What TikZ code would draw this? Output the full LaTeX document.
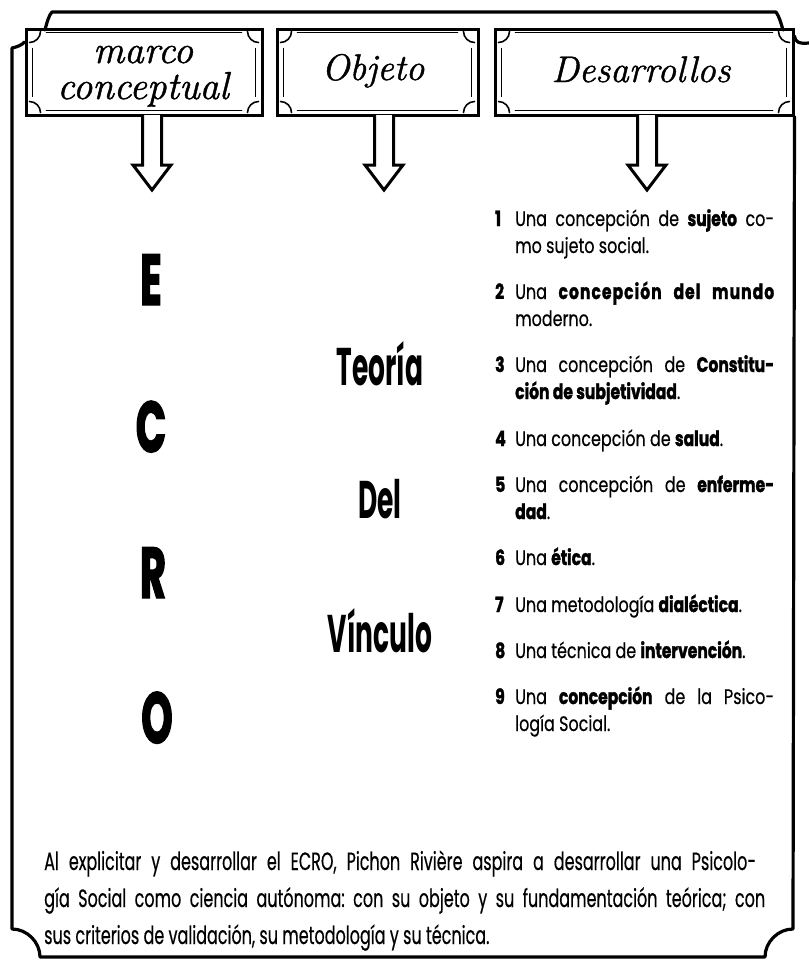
\documentclass[tikz,border=0pt]{standalone}
\usepackage{fontspec}
\usetikzlibrary{calc}
\newfontfamily\itemfont[FakeStretch=0.76,FakeBold=0.4]{Poppins}
\newfontfamily\itemboldfont[FakeStretch=0.74,FakeBold=1.5]{Poppins}
\newfontfamily\itemboldwide[FakeStretch=0.74,FakeBold=1.5,LetterSpace=5]{Poppins}
\newfontfamily\parafont[FakeStretch=0.64,FakeBold=0.4]{Poppins}
\newfontfamily\bigfont[FakeStretch=0.55,FakeBold=2]{Poppins}
\newfontfamily\midfont[FakeStretch=0.5]{Poppins}
\newfontfamily\handfont[FakeBold=1.2]{Latin Modern Roman}
\newcommand\B[1]{{\itemboldfont\bfseries #1}}
\newcommand\BW[1]{{\itemboldwide\bfseries #1}}
\newcommand\N[1]{\makebox[20pt][l]{\B{#1}}}
\newcommand\ornbox[1]{%
  \draw[ornthick] ($(#1.north west)+(22,5)$) -- ($(#1.north east)+(-22,5)$);
  \draw[ornthick] ($(#1.south west)+(22,-6)$) -- ($(#1.south east)+(-22,-6)$);
  \draw[ornthin] ($(#1.north west)+(8,20)$) -- ($(#1.south west)+(8,-20)$);
  \draw[ornthin] ($(#1.north east)+(-8,20)$) -- ($(#1.south east)+(-8,-20)$);
  \draw[ornthick] ($(#1.north west)+(5,15)$) .. controls ($(#1.north west)+(11,15)$) and ($(#1.north west)+(16,10)$) .. ($(#1.north west)+(16,4)$);
  \draw[ornthick] ($(#1.north east)+(-5,15)$) .. controls ($(#1.north east)+(-11,15)$) and ($(#1.north east)+(-16,10)$) .. ($(#1.north east)+(-16,4)$);
  \draw[ornthick] ($(#1.south west)+(5,-15)$) .. controls ($(#1.south west)+(11,-15)$) and ($(#1.south west)+(16,-10)$) .. ($(#1.south west)+(16,-4)$);
  \draw[ornthick] ($(#1.south east)+(-5,-15)$) .. controls ($(#1.south east)+(-11,-15)$) and ($(#1.south east)+(-16,-10)$) .. ($(#1.south east)+(-16,-4)$);
}
\newcommand\hollowarrow[2]{%
  \draw[blk] ($(#2 |- #1.south)+(-9.5,-1.5)$) -- ($(#2)+(-9.5,-25)$) -- ($(#2)+(-19,-25)$) -- (#2)
    -- ($(#2)+(19,-25)$) -- ($(#2)+(9.5,-25)$) -- ($(#2 |- #1.south)+(9.5,-1.5)$);
}
\frenchspacing
\begin{document}
\begin{tikzpicture}[x=1pt,y=-1pt,
  frame/.style={line width=3.2pt, line join=round, line cap=round},
  tbox/.style={draw, line width=3pt, inner sep=0pt, minimum height=86pt},
  ornthick/.style={line width=1.6pt, line cap=round},
  ornthin/.style={line width=1pt},
  blk/.style={line width=3pt, fill=white, line join=miter},
  hand/.style={inner sep=0pt, anchor=base, font=\handfont\itshape\fontsize{39}{39}\selectfont},
  handb/.style={inner sep=0pt, anchor=base, font=\handfont\itshape\fontsize{37}{37}\selectfont},
  itm/.style={inner sep=0pt, anchor=base west, font=\itemfont\fontsize{21}{21}\selectfont},
  para/.style={inner sep=0pt, anchor=base west, font=\parafont\fontsize{25}{25}\selectfont},
  big/.style={inner sep=0pt, anchor=base, font=\bigfont\bfseries\fontsize{72}{72}\selectfont},
  mid/.style={inner sep=0pt, anchor=base, font=\midfont\bfseries\fontsize{53}{53}\selectfont}
]
\useasboundingbox (0,0) rectangle (809,970);
\fill[white] (0,0) rectangle (809,970);

% title boxes
\node[tbox, minimum width=236pt] (marco) at (144,72) {};
\node[tbox, minimum width=201pt] (objeto) at (377.5,72) {};
\node[tbox, minimum width=298pt] (desa) at (644,72) {};
\ornbox{marco}
\ornbox{objeto}
\ornbox{desa}

% outer frame
\draw[frame] (45,30) .. controls (47,22) and (49,15) .. (52,12) -- (776,12) .. controls (779,16) and (781,23) .. (783,30);
\draw[frame] (marco.west |- 0,42) .. controls (22,45) and (17,47) .. (12,48) -- (12,929)
  .. controls (27,929) and (40,942) .. (40,957) -- (765,957)
  .. controls (765,942) and (778,929) .. (793,929) -- (desa.south east);
\draw[frame] (desa.east |- 0,36) .. controls (795,42) and (799,44) .. (809,43);

\node[hand] (t1) at (143,63) {marco};
\node[hand] (t2) at (143,99) {conceptual};
\node[handb] (t3) at (373,80) {Objeto};
\node[handb] (t4) at (641,82) {Desarrollos};

% arrows
\coordinate (tipa) at (152,190);
\coordinate (tipb) at (384,190);
\coordinate (tipc) at (647,190);
\hollowarrow{marco}{tipa}
\hollowarrow{objeto}{tipb}
\hollowarrow{desa}{tipc}

% ECRO
\node[big] (le) at (151,305) {E};
\node[big] (lc) at (151,452) {C};
\node[big] (lr) at (153,598) {R};
\node[big] (lo) at (157,743) {O};

\node[mid] (m1) at (380,385) {Teoría};
\node[mid] (m2) at (380,518) {Del};
\node[mid] (m3) at (380,652) {Vínculo};

% items
\node[itm] (i1a) at (495,226) {\makebox[279pt][s]{\N{1}Una concepción de \B{sujeto} co-}};
\node[itm] (i1b) at (515,253) {mo sujeto social.};
\node[itm] (i2a) at (495,299) {\makebox[279pt][s]{\N{2}Una \BW{concepción del mundo}}};
\node[itm] (i2b) at (515,326) {moderno.};
\node[itm] (i3a) at (495,372) {\makebox[279pt][s]{\N{3}Una concepción de \B{Constitu-}}};
\node[itm] (i3b) at (515,399) {\B{ción de subjetividad}.};
\node[itm] (i4) at (495,446) {\N{4}Una concepción de \B{salud}.};
\node[itm] (i5a) at (495,492) {\makebox[279pt][s]{\N{5}Una concepción de \B{enferme-}}};
\node[itm] (i5b) at (515,519) {\B{dad}.};
\node[itm] (i6) at (495,565) {\N{6}Una \B{ética}.};
\node[itm] (i7) at (495,612) {\N{7}Una metodología \B{dialéctica}.};
\node[itm] (i8) at (495,658) {\N{8}Una técnica de \B{intervención}.};
\node[itm] (i9a) at (495,704) {\makebox[279pt][s]{\N{9}Una \B{concepción} de la Psico-}};
\node[itm] (i9b) at (515,731) {logía Social.};

% paragraph
\node[para] (p1) at (44,870) {\makebox[712pt][s]{Al explicitar y desarrollar el ECRO, Pichon Rivière aspira a desarrollar una Psicolo-}};
\node[para] (p2) at (44,907) {\makebox[721pt][s]{gía Social como ciencia autónoma: con su objeto y su fundamentación teórica; con}};
\node[para] (p3) at (44,944) {sus criterios de validación, su metodología y su técnica.};
\end{tikzpicture}
\end{document}
